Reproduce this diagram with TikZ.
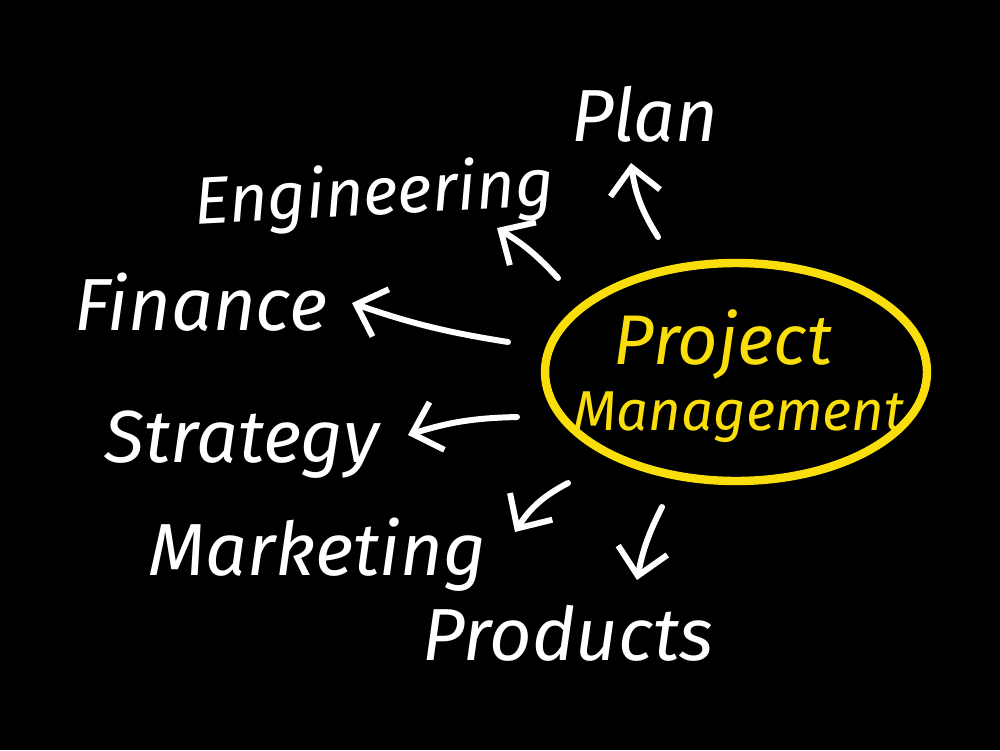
\documentclass[tikz,border=0pt]{standalone}
\usepackage{fontspec}
\setmainfont{Fira Sans}
\usepackage{tikz}
\usetikzlibrary{calc}
\usetikzlibrary{positioning}
\usetikzlibrary{arrows.meta}
\definecolor{pmyellow}{RGB}{250,222,12}
\begin{document}
\begin{tikzpicture}[every node/.style = {align=center, text=white, font=\itshape\fontsize{21}{24}\selectfont, anchor=base, inner sep=0pt},
word/.style={},
inner/.style={text=pmyellow},
hand/.style={white, line width=1.7pt, line cap=round, -{Straight Barb[length=2.6mm, width=5mm, line width=1.7pt]}}]
\fill[black] (0,0) rectangle (10,7.5);
\useasboundingbox (0,0) rectangle (10,7.5);
% the centre
\draw[pmyellow, line width=2.4pt] (7.36,3.78) ellipse [x radius=1.91, y radius=1.09];
\node[inner, font=\itshape\fontsize{20}{24}\selectfont] (pj) at (7.23,3.86) {Project};
\node[inner, font=\itshape\fontsize{16}{19}\selectfont] (mg) at (7.39,3.20) {Management};
% the words round it
\node[word] (plan) at (6.45,6.08) {Plan};
\node[word, rotate=3, font=\itshape\fontsize{19}{22}\selectfont] (eng) at (3.75,5.35) {Engineering};
\node[word] (fin) at (2.01,4.20) {Finance};
\node[word] (str) at (2.42,2.88) {Strategy};
\node[word] (mkt) at (3.17,1.75) {Marketing};
\node[word] (prd) at (5.68,0.90) {Products};
% arrow ends
\coordinate (plan-t) at (6.58,5.13);
\coordinate (plan-h) at (6.31,5.87);
\coordinate (eng-t) at (5.58,4.72);
\coordinate (eng-h) at (4.97,5.22);
\coordinate (fin-t) at (5.08,4.08);
\coordinate (fin-h) at (3.52,4.47);
\coordinate (str-t) at (5.17,3.33);
\coordinate (str-h) at (4.08,3.15);
\coordinate (mkt-t) at (5.68,2.67);
\coordinate (mkt-h) at (5.15,2.18);
\coordinate (prd-t) at (6.62,2.43);
\coordinate (prd-h) at (6.37,1.70);
\draw [hand] (plan-t) to [bend left=12] (plan-h);
\draw [hand] (eng-t) to [bend right=8] (eng-h);
\draw [hand] (fin-t) to [bend left=5] (fin-h);
\draw [hand] (str-t) to [bend right=8] (str-h);
\draw [hand] (mkt-t) to [bend right=15] (mkt-h);
\draw [hand] (prd-t) to [bend right=8] (prd-h);
\end{tikzpicture}
\end{document}
